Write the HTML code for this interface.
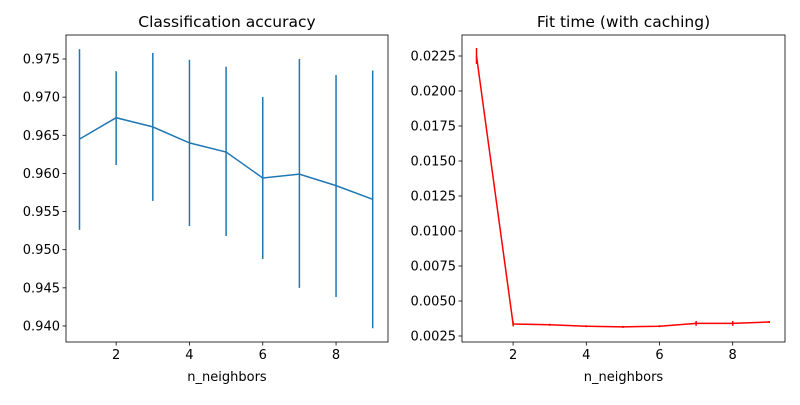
<!DOCTYPE html>
<html><head><meta charset="utf-8"><style>
body{margin:0;background:#fff;font-family:"Liberation Sans","DejaVu Sans",sans-serif}
svg text{font-family:"DejaVu Sans","Liberation Sans",sans-serif;font-size:13px;fill:#000}
</style></head><body>
<svg id="c" width="800" height="400" xmlns="http://www.w3.org/2000/svg"></svg>
<script>
const kValues=[1,2,3,4,5,6,7,8,9];
const accMean=[0.9645,0.9673,0.9661,0.9640,0.9628,0.9594,0.9599,0.9584,0.9566];
const accHigh=[0.9763,0.9734,0.9758,0.9749,0.9740,0.9700,0.9750,0.9729,0.9735];
const accLow=[0.9526,0.9611,0.9564,0.9531,0.9518,0.9488,0.9450,0.9438,0.9397];
const fitMean=[0.0225,0.00336,0.0033,0.0032,0.00315,0.0032,0.0034,0.0034,0.0035];
const fitErr=[0.0005,0.0001,0.0,0.0,0.0,0.0,0.0001,0.0001,0.0];
const accTicks=[0.940,0.945,0.950,0.955,0.960,0.965,0.970,0.975];
const fitTicks=[0.0025,0.0050,0.0075,0.0100,0.0125,0.0150,0.0175,0.0200,0.0225];
const xTicks=[2,4,6,8];
const NS="http://www.w3.org/2000/svg";
const svg=document.getElementById('c');
function mk(t,a,p){const e=document.createElementNS(NS,t);for(const k in a)e.setAttribute(k,a[k]);(p||svg).appendChild(e);return e;}
function panel(x0,x1,y0,y1,xs,ys,yt,fmt,title,name){
  const g=mk('g',{});
  
  
  const fr=mk('rect',{x:x0,y:y0,width:x1-x0,height:y1-y0,fill:'none',stroke:'#000','stroke-width':0.8},g);
  
  xTicks.forEach(v=>{const x=xs(v);mk('line',{x1:x,x2:x,y1:y1,y2:y1+3.5,stroke:'#000','stroke-width':0.8},g);
    const t=mk('text',{x:x,y:y1+17,'text-anchor':'middle'},g);t.textContent=v;
    });
  yt.forEach(v=>{const y=ys(v);mk('line',{x1:x0-3.5,x2:x0,y1:y,y2:y,stroke:'#000','stroke-width':0.8},g);
    const t=mk('text',{x:x0-6,y:y+4.5,'text-anchor':'end'},g);t.textContent=v.toFixed(fmt);
    });
  const xl=mk('text',{x:(x0+x1)/2,y:y1+39,'text-anchor':'middle'},g);xl.textContent='n_neighbors';
  
  const tt=mk('text',{x:(x0+x1)/2,y:y0-8,'text-anchor':'middle','style':'font-size:15.5px'},g);tt.textContent=title;
  
  return g;
}
// left
const lx=v=>79.5+(v-1)*36.65, ly=v=>59+(0.975-v)/0.005*38.14;
const gl=panel(66,388,35,342,lx,ly,accTicks,3,'Classification accuracy','accuracy-panel');
kValues.forEach((k,i)=>{const e=mk('line',{x1:lx(k),x2:lx(k),y1:ly(accHigh[i]),y2:ly(accLow[i]),stroke:'#1f77b4','stroke-width':1.5},gl);
  });
const pl=mk('polyline',{points:kValues.map((k,i)=>lx(k)+','+ly(accMean[i])).join(' '),fill:'none',stroke:'#1f77b4','stroke-width':1.5},gl);

// right
const rx=v=>476.5+(v-1)*36.6, ry=v=>56+(0.0225-v)/0.0025*35;
const gr=panel(462,785,35,342,rx,ry,fitTicks,4,'Fit time (with caching)','fit-time-panel');
kValues.forEach((k,i)=>{const e=mk('line',{x1:rx(k),x2:rx(k),y1:ry(fitMean[i]+fitErr[i])-1,y2:ry(fitMean[i]-fitErr[i])+1,stroke:'#ff0000','stroke-width':1.5},gr);
  });
const pr=mk('polyline',{points:kValues.map((k,i)=>rx(k)+','+ry(fitMean[i])).join(' '),fill:'none',stroke:'#ff0000','stroke-width':1.5},gr);

</script>
</body></html>
